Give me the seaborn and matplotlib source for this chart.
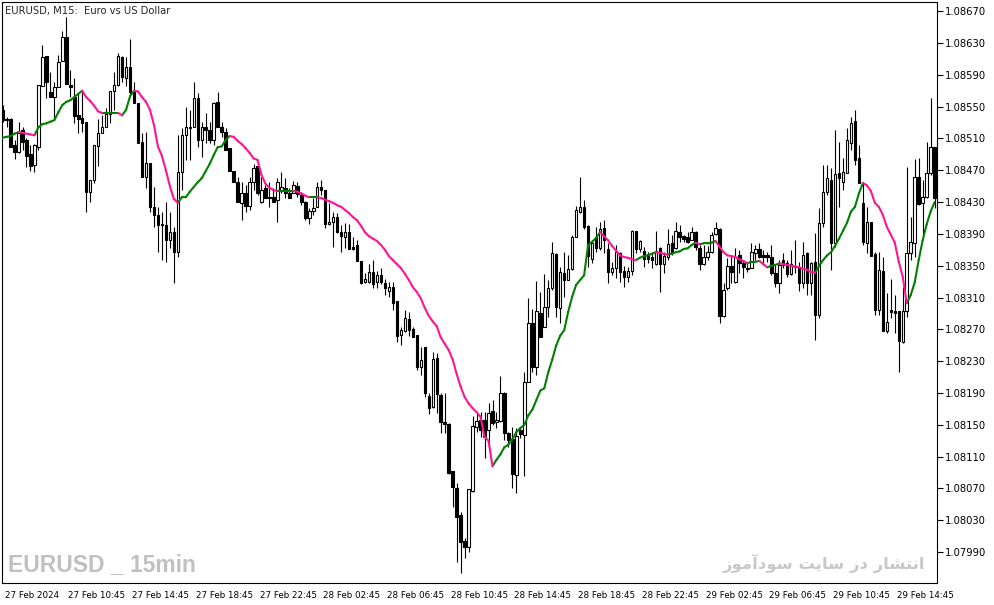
import matplotlib
matplotlib.use("Agg")
import matplotlib.pyplot as plt
import matplotlib.transforms as mtransforms
import numpy as np
import pandas as pd
import seaborn as sns

# %% data: EURUSD M15, prices in points (0.00001) above 1.08000

BASE = 1.08

open_pts = [
    546, 534, 534, 502, 493, 521, 508, 490, 477, 499,
    576, 614, 568, 562, 575, 607, 637, 577, 562, 539,
    536, 531, 443, 458, 500, 517, 524, 541, 570, 577,
    612, 586, 600, 570, 555, 505, 461, 479, 424, 414,
    403, 401, 382, 392, 367, 468, 514, 525, 524, 561,
    508, 524, 521, 508, 556, 524, 518, 498, 469, 455,
    429, 441, 425, 455, 475, 430, 448, 437, 436, 433,
    445, 448, 441, 441, 450, 439, 430, 410, 419, 424,
    449, 445, 402, 405, 411, 392, 386, 392, 373, 376,
    356, 330, 330, 342, 330, 338, 328, 318, 323, 306,
    263, 268, 283, 270, 263, 223, 248, 186, 172, 234,
    188, 153, 151, 92, 71, 37, 4, -4, 67, 147,
    156, 156, 143, 167, 154, 155, 190, 140, 132, 87,
    143, 137, 204, 278, 223, 290, 273, 298, 322, 365,
    297, 341, 332, 346, 386, 418, 424, 400, 358, 386,
    372, 397, 371, 342, 347, 366, 343, 336, 344, 394,
    371, 368, 365, 361, 352, 372, 352, 361, 379, 372,
    392, 387, 386, 382, 392, 372, 352, 361, 367, 390,
    396, 287, 322, 350, 330, 363, 353, 347, 347, 366,
    371, 363, 363, 361, 341, 328, 357, 353, 340, 350,
    348, 328, 366, 328, 355, 288, 404, 443, 458, 379,
    467, 455, 467, 504, 532, 485, 429, 379, 405, 365,
    294, 343, 268, 294, 293, 293, 254, 293, 366, 379,
    461, 429, 436, 467, 499,
]
high_pts = [
    552, 537, 536, 508, 531, 525, 510, 502, 503, 577,
    627, 614, 593, 581, 615, 645, 663, 596, 586, 567,
    568, 531, 458, 502, 534, 539, 548, 570, 593, 617,
    614, 612, 635, 581, 555, 517, 518, 479, 449, 424,
    417, 430, 417, 399, 514, 523, 549, 546, 581, 567,
    531, 542, 531, 556, 568, 531, 523, 498, 469, 461,
    455, 452, 461, 478, 477, 461, 452, 455, 448, 460,
    468, 460, 448, 457, 455, 443, 431, 423, 435, 455,
    458, 445, 429, 417, 416, 401, 404, 402, 386, 382,
    356, 341, 352, 357, 343, 347, 333, 330, 330, 306,
    273, 294, 292, 273, 263, 248, 248, 190, 242, 240,
    190, 190, 152, 92, 77, 40, 8, 69, 161, 165,
    166, 166, 177, 181, 166, 211, 191, 141, 147, 146,
    147, 216, 309, 296, 331, 317, 340, 332, 380, 366,
    348, 367, 363, 389, 425, 461, 433, 401, 382, 399,
    405, 407, 379, 355, 376, 367, 350, 348, 395, 394,
    382, 374, 367, 367, 394, 374, 367, 396, 389, 405,
    401, 389, 392, 399, 394, 376, 376, 375, 392, 405,
    397, 328, 360, 363, 372, 370, 357, 355, 379, 376,
    379, 370, 367, 376, 351, 357, 366, 357, 370, 382,
    355, 380, 367, 355, 391, 423, 477, 477, 473, 521,
    505, 485, 523, 537, 546, 502, 454, 424, 405, 367,
    367, 361, 316, 333, 313, 293, 323, 474, 411, 484,
    485, 458, 505, 561, 499,
]
low_pts = [
    531, 524, 499, 484, 492, 495, 474, 469, 468, 495,
    576, 561, 562, 533, 575, 607, 578, 562, 529, 517,
    518, 417, 430, 454, 475, 517, 524, 529, 546, 576,
    581, 576, 562, 555, 504, 461, 448, 417, 399, 367,
    357, 355, 372, 328, 361, 445, 483, 483, 524, 499,
    487, 504, 504, 502, 524, 512, 495, 469, 455, 430,
    407, 417, 420, 445, 439, 429, 435, 424, 430, 405,
    441, 435, 435, 441, 436, 426, 407, 402, 414, 424,
    439, 397, 401, 373, 391, 367, 372, 371, 370, 356,
    327, 328, 328, 322, 322, 327, 313, 311, 294, 254,
    250, 267, 262, 260, 219, 213, 185, 164, 171, 165,
    140, 140, 88, 47, -22, -36, -17, -10, 66, 141,
    135, 108, 121, 150, 146, 154, 131, 122, 71, 64,
    133, 86, 204, 216, 213, 260, 273, 286, 319, 286,
    278, 311, 332, 345, 386, 416, 396, 348, 353, 367,
    370, 366, 328, 338, 334, 329, 323, 329, 338, 366,
    367, 348, 353, 347, 351, 317, 341, 357, 363, 371,
    380, 380, 379, 382, 370, 345, 351, 357, 366, 389,
    278, 286, 319, 328, 328, 341, 334, 342, 347, 357,
    360, 351, 355, 338, 323, 316, 347, 336, 338, 341,
    318, 322, 313, 313, 257, 284, 399, 439, 345, 374,
    424, 445, 467, 495, 477, 454, 376, 366, 362, 288,
    288, 268, 265, 284, 265, 216, 253, 286, 357, 361,
    426, 389, 435, 464, 423,
]
close_pts = [
    533, 533, 499, 493, 517, 505, 488, 475, 502, 577,
    612, 581, 562, 575, 606, 637, 578, 575, 538, 534,
    529, 443, 458, 502, 517, 524, 541, 570, 577, 614,
    587, 600, 568, 555, 504, 461, 479, 424, 414, 401,
    401, 382, 392, 367, 468, 514, 524, 523, 561, 508,
    524, 521, 508, 555, 524, 518, 495, 469, 455, 430,
    441, 425, 455, 473, 441, 445, 435, 435, 430, 455,
    449, 441, 435, 451, 440, 430, 410, 419, 423, 449,
    445, 402, 405, 411, 392, 387, 392, 371, 371, 356,
    328, 333, 342, 327, 338, 330, 322, 323, 303, 262,
    269, 284, 269, 260, 223, 231, 190, 171, 233, 189,
    153, 151, 90, 72, 34, 3, -4, 69, 148, 155,
    143, 135, 165, 152, 156, 190, 140, 131, 88, 136,
    138, 204, 278, 223, 293, 260, 298, 322, 366, 298,
    342, 332, 346, 386, 420, 424, 399, 362, 379, 372,
    396, 382, 342, 347, 367, 342, 336, 343, 394, 371,
    381, 358, 358, 357, 368, 352, 362, 377, 366, 394,
    386, 384, 380, 392, 373, 352, 361, 367, 389, 397,
    287, 319, 350, 342, 361, 353, 348, 346, 367, 371,
    361, 361, 361, 341, 328, 351, 351, 340, 352, 348,
    328, 363, 328, 353, 288, 404, 443, 460, 379, 465,
    460, 468, 508, 529, 483, 454, 380, 405, 362, 294,
    345, 268, 279, 292, 291, 255, 293, 366, 380, 461,
    427, 436, 467, 499, 435,
]
# colour-changing moving average
ma_pts = [
    511, 512, 513, 516, 518, 517, 516, 515, 514, 524,
    528, 529, 531, 533, 543, 552, 556, 558, 562, 566,
    570, 562, 557, 551, 544, 542, 542, 542, 542, 542,
    539, 546, 563, 570, 569, 562, 556, 546, 527, 500,
    488, 470, 450, 434, 429, 436, 436, 443, 449, 455,
    460, 469, 478, 489, 499, 500, 508, 513, 512, 507,
    503, 498, 492, 485, 483, 464, 453, 448, 445, 444,
    444, 444, 444, 444, 443, 441, 438, 436, 436, 436,
    435, 433, 431, 429, 426, 424, 420, 416, 411, 407,
    400, 392, 387, 384, 381, 376, 370, 362, 357, 352,
    347, 340, 332, 323, 317, 309, 297, 287, 280, 274,
    260, 252, 244, 232, 214, 198, 185, 177, 171, 166,
    160, 135, 130, 98, 106, 113, 122, 125, 132, 141,
    146, 150, 162, 169, 181, 193, 196, 216, 232, 250,
    262, 269, 292, 311, 326, 332, 338, 376, 380, 385,
    392, 387, 382, 375, 369, 363, 361, 360, 358, 357,
    360, 362, 363, 365, 367, 366, 365, 364, 365, 367,
    368, 371, 372, 376, 379, 377, 378, 378, 379, 381,
    374, 367, 363, 362, 361, 358, 356, 353, 355, 355,
    356, 352, 348, 350, 351, 353, 352, 351, 350, 349,
    348, 346, 345, 342, 341, 350, 357, 363, 367, 375,
    384, 394, 404, 418, 424, 441, 454, 451, 444, 429,
    424, 414, 399, 389, 379, 355, 336, 303, 313, 329,
    357, 382, 402, 418, 430,
]

time_labels = [
    "27 Feb 2024", "27 Feb 10:45", "27 Feb 14:45", "27 Feb 18:45",
    "27 Feb 22:45", "28 Feb 02:45", "28 Feb 06:45", "28 Feb 10:45",
    "28 Feb 14:45", "28 Feb 18:45", "28 Feb 22:45", "29 Feb 02:45",
    "29 Feb 06:45", "29 Feb 10:45", "29 Feb 14:45",
]
price_ticks = [1.0799, 1.0803, 1.0807, 1.0811, 1.0815, 1.0819, 1.0823, 1.0827,
               1.0831, 1.0835, 1.0839, 1.0843, 1.0847, 1.0851, 1.0855, 1.0859,
               1.0863, 1.0867]

# %% frame

df = pd.DataFrame({
    "open": open_pts, "high": high_pts, "low": low_pts,
    "close": close_pts, "ma": ma_pts,
}) / 1e5 + BASE
df["bar"] = np.arange(len(df))
df["up"] = df["close"] >= df["open"]

# colour of each MA segment follows its slope
rows = []
for i in range(1, len(df)):
    d = "up" if df["ma"][i] >= df["ma"][i - 1] else "down"
    rows.append((i, i - 1, df["ma"][i - 1], d))
    rows.append((i, i, df["ma"][i], d))
seg = pd.DataFrame(rows, columns=["seg", "bar", "ma", "dir"])

# %% plot

sns.set_style("white", {"axes.edgecolor": "black"})
plt.rcParams["font.family"] = ["DejaVu Sans"]
plt.rcParams["axes.linewidth"] = 0.8

fig = plt.figure(figsize=(9.94, 6.05), dpi=100)
W, H = 994, 605
ax = fig.add_axes([2 / W, (H - 583) / H, 935 / W, 581 / H])

ax.vlines(df["bar"], df["low"], df["high"], color="black", lw=0.8, zorder=1)
body_lo = np.minimum(df["open"], df["close"])
body_h = (df["close"] - df["open"]).abs()
ax.bar(df["bar"], body_h, bottom=body_lo, width=0.62,
       color=np.where(df["up"], "white", "black"),
       edgecolor="black", linewidth=0.8, zorder=2)

sns.lineplot(data=seg, x="bar", y="ma", hue="dir", units="seg", estimator=None,
             palette={"up": "#008000", "down": "#ff1493"}, lw=1.5,
             sort=False, legend=False, ax=ax, zorder=3)

ax.set_xlim(-0.15, 234.6)
ax.set_ylim(1.079512, 1.086815)
ax.set_xlabel("")
ax.set_ylabel("")

ax.yaxis.tick_right()
ax.set_yticks(price_ticks)
ax.set_yticklabels([f"{p:.5f}" for p in price_ticks])
ax.set_xticks(np.arange(len(time_labels)) * 16)
ax.set_xticklabels(time_labels)
ax.tick_params(axis="both", length=4, width=0.8, color="black",
               labelcolor="black")
ax.tick_params(axis="y", pad=2, labelsize=7.2)
ax.tick_params(axis="x", pad=1.5, labelsize=6.3)
shift = mtransforms.ScaledTranslation(1.5 / 72, 0, fig.dpi_scale_trans)
for lab in ax.get_xticklabels():
    lab.set_horizontalalignment("left")
    lab.set_transform(lab.get_transform() + shift)
for s in ax.spines.values():
    s.set_color("black")

fig.text(5 / W, 1 - 11 / H, "EURUSD, M15:  Euro vs US Dollar",
         fontsize=7.2, va="center", ha="left")
fig.text(8 / W, 1 - 565 / H, "EURUSD _ 15min", fontsize=16.5, fontweight="bold",
         color="#c0c0c0", va="center", ha="left",
         family=["Liberation Sans", "DejaVu Sans"])
# "انتشار در سایت سودآموز" in joined presentation forms, visual order
fa_text = ("\uFEAF\uFEEE\uFEE3\uFE81\uFEA9\uFEEE\uFEB3 \uFE96\uFEF3\uFE8E\uFEB3 "
           "\uFEAD\uFEA9 \uFEAD\uFE8E\uFEB8\uFE98\uFEE7\uFE8D")
fig.text(925 / W, 1 - 563 / H, fa_text, fontsize=11.8, fontweight="bold",
         color="#c8c8c8", va="center", ha="right", family=["DejaVu Sans"])

fig.savefig("out.png", dpi=100, facecolor="w")
